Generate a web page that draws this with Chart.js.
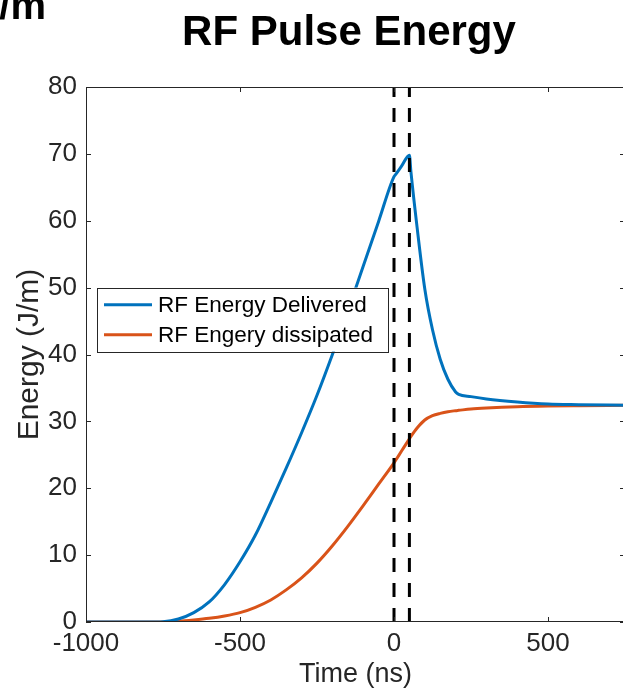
<!DOCTYPE html>
<html><head><meta charset="utf-8">
<script src="https://cdn.jsdelivr.net/npm/chart.js@4"></script>
<style>
html,body{margin:0;padding:0;background:#fff;overflow:hidden;width:623px;height:694px}
#wrap{position:absolute;left:0;top:0;width:640px;height:694px}
</style></head>
<body><div id="wrap"><canvas id="c" width="640" height="694"></canvas></div>
<script>
// ---- data ----
const timeNs = [-1000,-800,-750,-700,-650,-600,-550,-500,-450,-400,-350,-300,-250,-200,-150,-100,-50,0,5,25,50,55,75,100,125,150,175,200,210,250,300,400,500,600,750];
const energyDelivered = [0,0,0.05,0.45,1.4,3.0,5.6,9.0,13.0,17.9,23.0,28.3,33.9,40.0,46.5,53.2,59.9,66.6,66.9,68.2,69.8,67.3,59.0,49.8,43.7,39.3,36.3,34.4,34.05,33.7,33.35,32.9,32.6,32.5,32.4];
const energyDissipated = [0,0,0,0.1,0.3,0.55,0.9,1.4,2.2,3.3,4.8,6.6,8.8,11.4,14.3,17.4,20.6,23.8,24.15,25.6,27.4,27.75,29.0,30.2,30.85,31.2,31.45,31.6,31.65,31.85,32.0,32.2,32.3,32.35,32.4];
const markerTimes = [0, 50];
const xTicks = [-1000, -500, 0, 500];
const yTicks = [0, 10, 20, 30, 40, 50, 60, 70, 80];
const seriesLabels = ['RF Energy Delivered', 'RF Engery dissipated'];
const titleText = 'RF Pulse Energy';
const xTitle = 'Time (ns)';
const yTitle = 'Energy (J/m)';
const xRange = [-1000, 750];
const yRange = [0, 80];

const FONT = "'Liberation Sans', Arial, Helvetica, sans-serif";
const BLUE = '#0072BD', ORANGE = '#D95319', AX = '#262626';

const toXY = (xs, ys) => xs.map((x, i) => ({x, y: ys[i]}));

const datasets = [
  {label: seriesLabels[0], data: toXY(timeNs, energyDelivered), borderColor: BLUE, borderWidth: 3, cubicInterpolationMode: 'monotone', order: 1, borderJoinStyle: 'round'},
  {label: seriesLabels[1], data: toXY(timeNs, energyDissipated), borderColor: ORANGE, borderWidth: 3, cubicInterpolationMode: 'monotone', order: 2, borderJoinStyle: 'round'},
];
markerTimes.forEach(t => datasets.push({
  label: '', data: [{x: t, y: yRange[0]}, {x: t, y: yRange[1]}],
  borderColor: '#000', borderWidth: 3, borderDash: [14, 11], order: 0, isMarker: true
}));

const decor = {
  id: 'decor',
  afterDatasetsDraw(chart) {
    const {ctx, chartArea: a, scales: {x, y}} = chart;
    ctx.save();
    ctx.strokeStyle = AX; ctx.lineWidth = 1;
    ctx.strokeRect(a.left + 0.5, a.top + 0.5, a.right - a.left - 1, a.bottom - a.top - 1);
    ctx.beginPath();
    xTicks.forEach(v => {
      const p = Math.round(x.getPixelForValue(v)) + 0.5;
      ctx.moveTo(p, a.bottom); ctx.lineTo(p, a.bottom - 5);
      ctx.moveTo(p, a.top); ctx.lineTo(p, a.top + 5);
    });
    yTicks.forEach(v => {
      const p = Math.round(y.getPixelForValue(v)) + 0.5;
      ctx.moveTo(a.left, p); ctx.lineTo(a.left + 5, p);
      ctx.moveTo(a.right, p); ctx.lineTo(a.right - 5, p);
    });
    ctx.stroke();
    // legend
    const lx = a.left + 11, ly = y.getPixelForValue(50), lw = 291, lh = 64;
    ctx.fillStyle = '#fff';
    ctx.fillRect(lx, ly, lw, lh);
    ctx.strokeStyle = AX; ctx.lineWidth = 1;
    ctx.strokeRect(Math.round(lx) + 0.5, Math.round(ly) + 0.5, lw, lh);
    ctx.font = '22.5px ' + FONT;
    ctx.textBaseline = 'middle';
    chart.data.datasets.filter(d => !d.isMarker).forEach((d, i) => {
      const cy = ly + 17 + i * 30;
      ctx.strokeStyle = d.borderColor; ctx.lineWidth = 3;
      ctx.beginPath(); ctx.moveTo(lx + 7, cy); ctx.lineTo(lx + 55, cy); ctx.stroke();
      ctx.fillStyle = '#000';
      ctx.fillText(d.label, lx + 61, cy + 1);
    });
    ctx.restore();
  },
  afterDraw(chart) {
    const {ctx} = chart;
    ctx.save();
    ctx.fillStyle = '#000';
    ctx.font = 'bold 42px ' + FONT;
    ctx.textAlign = 'center';
    ctx.textBaseline = 'alphabetic';
    ctx.fillText(titleText, 349, 45);
    ctx.font = 'bold 40px ' + FONT;
    ctx.textAlign = 'right';
    ctx.fillText('J/m', 46, 19);
    ctx.restore();
  }
};

new Chart(document.getElementById('c'), {
  type: 'line',
  data: {datasets},
  plugins: [decor],
  options: {
    responsive: false, animation: false, devicePixelRatio: 1,
    layout: {padding: {top: 87, right: 15, left: 0, bottom: 0}},
    elements: {point: {radius: 0}, line: {fill: false}},
    plugins: {legend: {display: false}, title: {display: false}, tooltip: {enabled: false}},
    scales: {
      x: {
        type: 'linear', min: xRange[0], max: xRange[1],
        afterBuildTicks: s => { s.ticks = xTicks.map(v => ({value: v})); },
        afterFit: s => { s.height = 72; },
        grid: {display: false, drawTicks: false}, border: {display: false},
        ticks: {font: {family: FONT, size: 26}, color: AX, padding: 6, maxRotation: 0, autoSkip: false, callback: v => String(v)},
        title: {display: true, text: xTitle, font: {family: FONT, size: 27}, color: AX, padding: {top: 0, bottom: 3}}
      },
      y: {
        type: 'linear', min: yRange[0], max: yRange[1],
        afterBuildTicks: s => { s.ticks = yTicks.map(v => ({value: v})); },
        afterFit: s => { s.width = 86; },
        grid: {display: false, drawTicks: false}, border: {display: false},
        ticks: {font: {family: FONT, size: 26}, color: AX, padding: 9, callback: v => String(v)},
        title: {display: true, text: yTitle, font: {family: FONT, size: 30}, color: AX, padding: {top: 12, bottom: 0}}
      }
    }
  }
});
</script>
</body></html>
